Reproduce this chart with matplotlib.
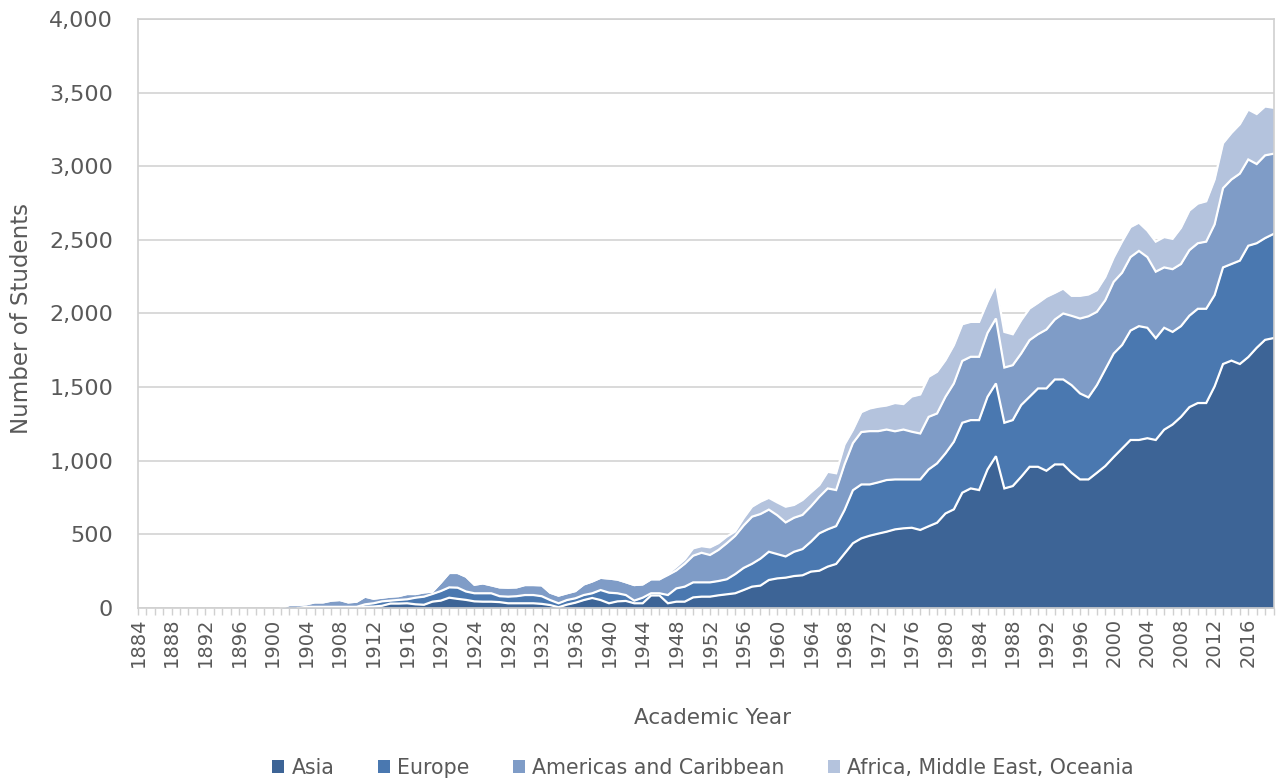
import matplotlib
matplotlib.use("Agg")
import matplotlib.pyplot as plt
import numpy as np
from matplotlib.ticker import FuncFormatter, MultipleLocator, FixedLocator
from matplotlib.patches import Patch

years = list(range(1884, 2020))

asia = [0, 0, 0, 0, 0, 0, 0, 0, 0, 0, 0, 0, 0, 0, 0, 0, 0, 0,
        0, 0, 0, 0, 0, 0, 0, 0, 0, 9, 10, 15, 30, 30, 32, 25, 22, 43,
        50, 70, 62, 55, 45, 43, 43, 40, 32, 32, 32, 32, 28, 20, 5, 23,
        36, 54, 68, 54, 32, 45, 48, 32, 32, 85, 85, 32, 43, 43, 72, 77,
        77, 86, 93, 100, 122, 145, 152, 190, 201, 206, 217, 222, 247, 253, 281, 299,
        370, 440, 473, 491, 505, 518, 534, 541, 545, 530, 555, 579, 642, 670, 783, 812,
        801, 941, 1031, 812, 828, 891, 959, 959, 932, 975, 975, 918, 873, 873, 918, 964,
        1025, 1083, 1141, 1141, 1153, 1141, 1211, 1246, 1298, 1364, 1392, 1392, 1505, 1657, 1680, 1657,
        1704, 1767, 1821, 1833]

europe = [0, 0, 0, 0, 0, 0, 0, 0, 0, 0, 0, 0, 0, 0, 0, 0, 0, 0,
          0, 0, 8, 8, 8, 8, 8, 8, 8, 16, 22, 30, 20, 25, 27, 45, 55, 52,
          65, 70, 76, 57, 55, 57, 57, 40, 45, 48, 56, 56, 52, 34, 27, 31,
          30, 34, 32, 68, 72, 55, 40, 18, 38, 15, 15, 56, 90, 102, 102, 97,
          97, 97, 102, 130, 150, 155, 183, 192, 165, 144, 165, 178, 203, 254, 253, 257,
          295, 360, 366, 348, 348, 351, 339, 332, 328, 343, 386, 403, 408, 459, 475, 464,
          475, 493, 494, 446, 448, 487, 475, 532, 559, 577, 577, 595, 584, 557, 595, 656,
          703, 703, 743, 773, 750, 691, 692, 629, 616, 621, 640, 640, 620, 656, 656, 702,
          756, 710, 691, 707]

americas = [0, 0, 0, 0, 0, 0, 0, 0, 0, 0, 0, 0, 0, 0, 0, 0, 0, 0,
            20, 20, 17, 30, 30, 42, 46, 30, 35, 52, 31, 25, 27, 26, 36, 25, 29, 16,
            57, 98, 100, 101, 58, 67, 54, 60, 61, 60, 68, 68, 74, 50, 52, 46,
            49, 72, 80, 83, 96, 93, 87, 106, 90, 95, 95, 136, 122, 155, 181, 201,
            186, 211, 245, 260, 288, 320, 303, 286, 264, 231, 231, 232, 240, 248, 278, 245,
            310, 320, 356, 362, 348, 343, 327, 339, 324, 312, 357, 339, 384, 396, 420, 430,
            430, 434, 441, 375, 373, 350, 385, 368, 400, 407, 448, 471, 509, 551, 498, 470,
            487, 491, 499, 511, 480, 452, 410, 426, 422, 445, 445, 456, 480, 538, 574, 591,
            586, 538, 562, 545]

africa = [0, 0, 0, 0, 0, 0, 0, 0, 0, 0, 0, 0, 0, 0, 0, 0, 0, 0,
          0, 0, 0, 0, 0, 0, 0, 0, 0, 0, 0, 0, 0, 0, 0, 0, 0, 0,
          0, 0, 0, 0, 0, 0, 0, 0, 0, 0, 0, 0, 0, 0, 0, 0,
          0, 0, 0, 0, 0, 0, 0, 0, 0, 0, 0, 10, 25, 30, 50, 45,
          52, 46, 45, 30, 50, 68, 84, 80, 87, 107, 87, 101, 95, 80, 113, 114,
          135, 90, 135, 154, 166, 163, 192, 173, 239, 265, 272, 283, 249, 260, 249, 237,
          237, 211, 233, 242, 210, 226, 215, 213, 222, 181, 169, 136, 154, 148, 147, 158,
          165, 211, 204, 192, 180, 204, 206, 206, 246, 269, 269, 274, 305, 305, 316, 335,
          339, 340, 332, 312]

series_names = ["Asia", "Europe", "Americas and Caribbean", "Africa, Middle East, Oceania"]
colors = ["#3D6496", "#4A78B0", "#7F9CC7", "#B4C3DD"]
text_color = "#595959"
grid_color = "#D9D9D9"

W, H = 1276, 782
fig = plt.figure(figsize=(W / 100, H / 100), dpi=100)
ax = fig.add_axes([138 / W, 1 - 608 / H, (1273.5 - 138) / W, (608 - 19) / H])

x = np.arange(len(years))
stack = np.cumsum(np.vstack([asia, europe, americas, africa]).astype(float), axis=0)

base = np.zeros(len(years))
for i in range(4):
    ax.fill_between(x, base, stack[i], color=colors[i], lw=0, zorder=1.5)
    base = stack[i]


def mask_flat_zero(a):
    a = a.copy()
    z = a == 0
    left = np.r_[True, z[:-1]]
    right = np.r_[z[1:], True]
    a[z & left & right] = np.nan
    return a


for i in range(4):
    ax.plot(x, mask_flat_zero(stack[i]), color="white", lw=1.6, zorder=1.8,
            solid_joinstyle="miter")

ax.set_xlim(0, len(years) - 1)
ax.set_ylim(0, 4000)

ax.yaxis.set_major_locator(MultipleLocator(500))
ax.yaxis.set_major_formatter(FuncFormatter(lambda v, p: f"{v:,.0f}"))
ax.yaxis.grid(True, color=grid_color, lw=1.4)
ax.set_axisbelow(True)

major_idx = [i for i, y in enumerate(years) if (y - 1884) % 4 == 0]
ax.xaxis.set_major_locator(FixedLocator(major_idx))
ax.set_xticklabels([str(years[i]) for i in major_idx], rotation=90)
ax.xaxis.set_minor_locator(FixedLocator(list(x)))

ax.tick_params(axis="x", which="both", direction="out", length=5, width=1.0,
               color="#D0D0D0", labelsize=14, labelcolor=text_color, pad=2)
ax.tick_params(axis="y", which="both", length=0, labelsize=16, labelcolor=text_color, pad=18)

for s in ax.spines.values():
    s.set_color("#D0D0D0")
    s.set_linewidth(1.2)
    s.set_zorder(3)

fig.text(22 / W, 1 - 318 / H, "Number of Students", rotation=90, ha="center", va="center",
         fontsize=16.5, color=text_color)
fig.text(713 / W, 1 - 718 / H, "Academic Year", ha="center", va="center",
         fontsize=15.5, color=text_color)

handles = [Patch(facecolor=c, edgecolor="none") for c in colors]
fig.legend(handles, series_names, loc="center", bbox_to_anchor=(703 / W, 1 - 768 / H),
           ncol=4, frameon=False, fontsize=14.8, labelcolor=text_color,
           handlelength=0.6, handleheight=0.6, handletextpad=0.35, columnspacing=2.1)

fig.savefig("out.png", dpi=100)
